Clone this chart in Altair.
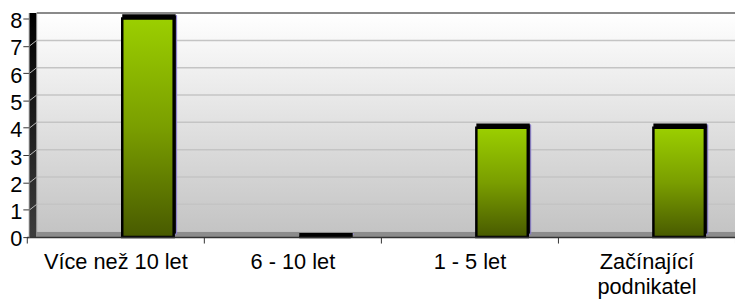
import altair as alt
import pandas as pd

# ---- data ----
categories = ["Více než 10 let", "6 - 10 let", "1 - 5 let", "Začínající\npodnikatel"]
values = [8, 0, 4, 4]
y_ticks = [0, 1, 2, 3, 4, 5, 6, 7, 8]
grid_levels = [1, 2, 3, 4, 5, 6, 7]

bars_df = pd.DataFrame({"cat": categories, "val": values})
grid_df = pd.DataFrame({"v": grid_levels})
one_df = pd.DataFrame({"a": [0]})

# ---- geometry ----
W, H = 714, 227
YMAX = 8.217
DX, DY = 8, 5.5
FONT = "Liberation Sans"

yscale = alt.Scale(domain=[0, YMAX], nice=False, zero=True)
xscale = alt.Scale(domain=categories, range=[-2, 714], paddingInner=0, paddingOuter=0)

x_axis = alt.Axis(title="", orient="bottom", labelAngle=0, labelBaseline="top",
                  labelFont=FONT, labelFontSize=22, labelColor="#000000",
                  labelPadding=9, labelLineHeight=25, labelOverlap=False,
                  labelExpr="split(datum.label, '\\n')",
                  tickBand="extent", tickSize=6, tickColor="#333333",
                  domainColor="#333333", domainWidth=1.5, zindex=2)
y_axis = alt.Axis(title="", orient="left", values=y_ticks, tickCount=9,
                  labelFont=FONT, labelFontSize=22, labelColor="#000000",
                  labelPadding=1, labelOffset=2, labelOverlap=False,
                  tickSize=6, tickColor="#333333", domainColor="#777777",
                  grid=False, zindex=2)

bar_grad = alt.Gradient(
    gradient="linear",
    stops=[alt.GradientStop(color="#9bcf00", offset=0),
           alt.GradientStop(color="#7a9e00", offset=0.5),
           alt.GradientStop(color="#485a00", offset=1)],
    x1=0, x2=0, y1=0, y2=1)
wall_grad = alt.Gradient(
    gradient="linear",
    stops=[alt.GradientStop(color="#ffffff", offset=0),
           alt.GradientStop(color="#c4c4c4", offset=1)],
    x1=0, x2=0, y1=0, y2=1)
side_grad = alt.Gradient(
    gradient="linear",
    stops=[alt.GradientStop(color="#000000", offset=0),
           alt.GradientStop(color="#3c3c3c", offset=1)],
    x1=0, x2=0, y1=0, y2=1)


def Y(field=None, datum=None):
    if datum is not None:
        return alt.Y(datum=datum, scale=yscale, axis=y_axis)
    return alt.Y(field, scale=yscale, axis=y_axis)


def X():
    return alt.X("cat:N", scale=xscale, sort=categories, axis=x_axis)


back_wall = alt.Chart(one_df).mark_rect(fill=wall_grad, yOffset=-DY, y2Offset=-DY).encode(
    x=alt.value(DX), x2=alt.value(W + 10),
    y=Y(datum=8), y2=alt.Y2(datum=0))

grid = alt.Chart(grid_df).mark_rule(color="#c4c4c4", strokeWidth=1.5, yOffset=-DY).encode(
    x=alt.value(DX), x2=alt.value(W + 10), y=Y("v:Q"))

top_line = alt.Chart(one_df).mark_rule(color="#8a8a8a", strokeWidth=2, yOffset=-DY).encode(
    x=alt.value(DX), x2=alt.value(W + 10), y=Y(datum=8))

left_wall = alt.Chart(one_df).mark_rect(fill=side_grad, yOffset=-DY).encode(
    x=alt.value(0.5), x2=alt.value(DX), y=Y(datum=8), y2=alt.Y2(datum=0))

left_edge = alt.Chart(one_df).mark_rule(color="#9a9a9a", strokeWidth=1, yOffset=-DY).encode(
    x=alt.value(DX), y=Y(datum=8), y2=alt.Y2(datum=0))

depth_ticks = alt.Chart(grid_df).mark_rule(color="#bbbbbb", strokeWidth=1, y2Offset=-DY).encode(
    x=alt.value(1), x2=alt.value(DX), y=Y("v:Q"), y2="v:Q")

floor = alt.Chart(one_df).mark_rect(fill="#8c8c8c", yOffset=-DY).encode(
    x=alt.value(0.5), x2=alt.value(W + 10), y=Y(datum=0), y2=alt.Y2(datum=0))

bar_depth = alt.Chart(bars_df).mark_bar(
    size=52, xOffset=36, yOffset=-3, fill="#111111", stroke="#9b8fe0", strokeWidth=1
).encode(x=X(), y=Y("val:Q"))

bars = alt.Chart(bars_df).mark_bar(
    size=52, xOffset=33, fill=bar_grad, stroke="#000000", strokeWidth=2.5
).encode(x=X(), y=Y("val:Q"))

top_face = alt.Chart(bars_df).mark_tick(
    thickness=4.5, size=54, xOffset=34, yOffset=-2, color="#000000", opacity=1
).encode(x=X(), y=Y("val:Q"))

chart = alt.layer(
    back_wall, grid, top_line, floor, left_wall, left_edge, depth_ticks,
    bar_depth, bars, top_face
).properties(
    width=W, height=H,
    background="#ffffff",
    autosize=alt.AutoSizeParams(type="none"),
    padding={"left": 21, "top": 3, "right": 0, "bottom": 65},
).configure_view(stroke=None)

chart.save("out.html", embed_options={"renderer": "svg", "actions": False})
